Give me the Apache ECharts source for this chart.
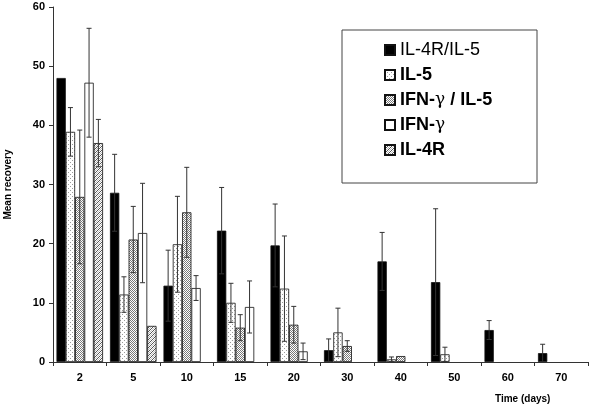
<!DOCTYPE html>
<html>
<head>
<meta charset="utf-8">
<script src="https://cdn.jsdelivr.net/npm/echarts@6/dist/echarts.min.js"></script>
<style>
  html, body { margin: 0; padding: 0; background: #fff; }
  #main { width: 600px; height: 411px; }
</style>
</head>
<body>
<div id="main"></div>
<script>
// data
var categories = ['2', '5', '10', '15', '20', '30', '40', '50', '60', '70'];
var seriesNames = ['IL-4R/IL-5', 'IL-5', 'IFN-γ / IL-5', 'IFN-γ', 'IL-4R'];

var il4rIl5    = [48, 28.6, 12.9, 22.2, 19.7, 2.0, 17.0, 13.5, 5.4, 1.5];
var il4rIl5Err = [0, 6.5, 6.0, 7.3, 7.0, 1.9, 4.9, 12.4, 1.6, 1.5];
var il5        = [38.9, 11.4, 19.9, 10.0, 12.4, 5.0, 0.45, 1.3, null, null];
var il5Err     = [4.1, 3.0, 8.1, 3.3, 8.9, 4.1, 0.4, 1.2, 0, 0];
var ifnIl5     = [27.9, 20.7, 25.3, 5.8, 6.3, 2.7, 1.0, null, null, null];
var ifnIl5Err  = [11.3, 5.6, 7.6, 2.2, 3.1, 0.9, 0, 0, 0, 0];
var ifn        = [47.2, 21.8, 12.5, 9.3, 1.8, null, null, null, null, null];
var ifnErr     = [9.2, 8.4, 2.1, 4.4, 1.4, 0, 0, 0, 0, 0];
var il4r       = [37, 6.1, null, null, null, null, null, null, null, null];
var il4rErr    = [4, 0, 0, 0, 0, 0, 0, 0, 0, 0];

var values = [il4rIl5, il5, ifnIl5, ifn, il4r];
var errors = [il4rIl5Err, il5Err, ifnIl5Err, ifnErr, il4rErr];

// fill patterns
function makePattern(kind) {
    var c = document.createElement('canvas');
    c.width = 4; c.height = 4;
    var ctx = c.getContext('2d');
    ctx.fillStyle = '#fff';
    ctx.fillRect(0, 0, 4, 4);
    if (kind === 'dots') {
        ctx.fillStyle = '#9a9a9a';
        ctx.fillRect(0, 0, 1, 1);
        ctx.fillRect(2, 2, 1, 1);
    } else if (kind === 'dense') {
        ctx.fillStyle = '#7a7a7a';
        for (var i = 0; i < 4; i++) {
            ctx.fillRect(i, i, 1, 1);
            ctx.fillRect(i, (i + 2) % 4, 1, 1);
        }
    } else if (kind === 'diag') {
        ctx.fillStyle = '#555';
        for (var j = 0; j < 4; j++) {
            ctx.fillRect(j, 3 - j, 1, 1);
        }
        ctx.fillStyle = '#bbb';
        for (var k = 0; k < 4; k++) {
            ctx.fillRect(k, (5 - k) % 4, 1, 1);
        }
    }
    return { image: c, repeat: 'repeat' };
}

var fills = ['#000', makePattern('dots'), makePattern('dense'), '#fff', makePattern('diag')];
var gapRatio = 0.13;

var errData = [];
for (var s = 0; s < values.length; s++) {
    for (var i = 0; i < categories.length; i++) {
        if (values[s][i] != null && errors[s][i] > 0) {
            errData.push([i, s, values[s][i], errors[s][i]]);
        }
    }
}

function renderErr(params, api) {
    var cat = api.value(0), s = api.value(1), v = api.value(2), e = api.value(3);
    var band = api.size([1, 0])[0];
    var barW = band * (1 - gapRatio) / 5;
    var center = api.coord([cat, v]);
    var x = center[0] - 2.5 * barW + (s + 0.5) * barW;
    var yTop = api.coord([cat, v + e])[1];
    var yBot = api.coord([cat, Math.max(v - e, 0)])[1];
    var cap = 2.5;
    var st = { stroke: '#333', lineWidth: 1 };
    return {
        type: 'group',
        children: [
            { type: 'line', shape: { x1: x, y1: yTop, x2: x, y2: yBot }, style: st },
            { type: 'line', shape: { x1: x - cap, y1: yTop, x2: x + cap, y2: yTop }, style: st },
            { type: 'line', shape: { x1: x - cap, y1: yBot, x2: x + cap, y2: yBot }, style: st }
        ]
    };
}

var series = [];
for (var n = 0; n < seriesNames.length; n++) {
    series.push({
        name: seriesNames[n],
        type: 'bar',
        data: values[n],
        barGap: '0%',
        barCategoryGap: (gapRatio * 100) + '%',
        itemStyle: { color: fills[n], borderColor: '#111', borderWidth: 0.8 },
        silent: true
    });
}
series.push({
    type: 'custom',
    renderItem: renderErr,
    data: errData,
    encode: { x: 0, y: 2 },
    z: 5,
    silent: true
});

var myChart = echarts.init(document.getElementById('main'));
var option = {
    animation: false,
    backgroundColor: '#fff',
    grid: { left: 53, right: 12, top: 7, bottom: 49, outerBoundsMode: 'none' },
    legend: {
        orient: 'vertical',
        left: 379,
        top: 36,
        itemWidth: 10,
        itemHeight: 10,
        itemGap: 7,
        icon: 'rect',
        data: seriesNames,
        formatter: function (name) {
            if (name === 'IL-4R/IL-5') return '{n|' + name + '}';
            var parts = name.split('γ');
            if (parts.length === 1) return '{b|' + name + '}';
            return '{b|' + parts[0] + '}{g|γ}{b|' + parts[1] + '}';
        },
        textStyle: {
            fontFamily: 'Liberation Sans',
            fontSize: 18,
            color: '#000',
            lineHeight: 18,
            rich: {
                n: { fontFamily: 'Liberation Sans', fontSize: 18, fontWeight: 'normal', color: '#000' },
                b: { fontFamily: 'Liberation Sans', fontSize: 18, fontWeight: 'bold', color: '#000' },
                g: { fontFamily: 'DejaVu Serif', fontSize: 17, fontWeight: 'normal', color: '#000' }
            }
        }
    },
    graphic: [
        {
            type: 'rect',
            shape: { x: 342, y: 30, width: 195, height: 153 },
            style: { fill: 'none', stroke: '#444', lineWidth: 1 },
            z: 10
        },
        {
            type: 'text',
            left: 495,
            top: 394,
            style: { text: 'Time (days)', font: 'bold 10px "Liberation Sans"', fill: '#000' }
        }
    ],
    xAxis: {
        type: 'category',
        data: categories,
        axisLine: { lineStyle: { color: '#333', width: 1 } },
        axisTick: { show: true, length: 4, alignWithLabel: false, lineStyle: { color: '#333' } },
        axisLabel: { color: '#000', fontWeight: 'bold', fontSize: 11, fontFamily: 'Liberation Sans', margin: 10 }
    },
    yAxis: {
        type: 'value',
        min: 0,
        max: 60,
        interval: 10,
        name: 'Mean recovery',
        nameLocation: 'middle',
        nameGap: 40,
        nameRotate: 90,
        nameTextStyle: { color: '#000', fontWeight: 'bold', fontSize: 10, fontFamily: 'Liberation Sans' },
        splitLine: { show: false },
        axisLine: { show: true, lineStyle: { color: '#333', width: 1 } },
        axisTick: { show: true, length: 4, lineStyle: { color: '#333' } },
        axisLabel: { color: '#000', fontWeight: 'bold', fontSize: 11, fontFamily: 'Liberation Sans', margin: 8 }
    },
    series: series
};
myChart.setOption(option);
</script>
</body>
</html>
